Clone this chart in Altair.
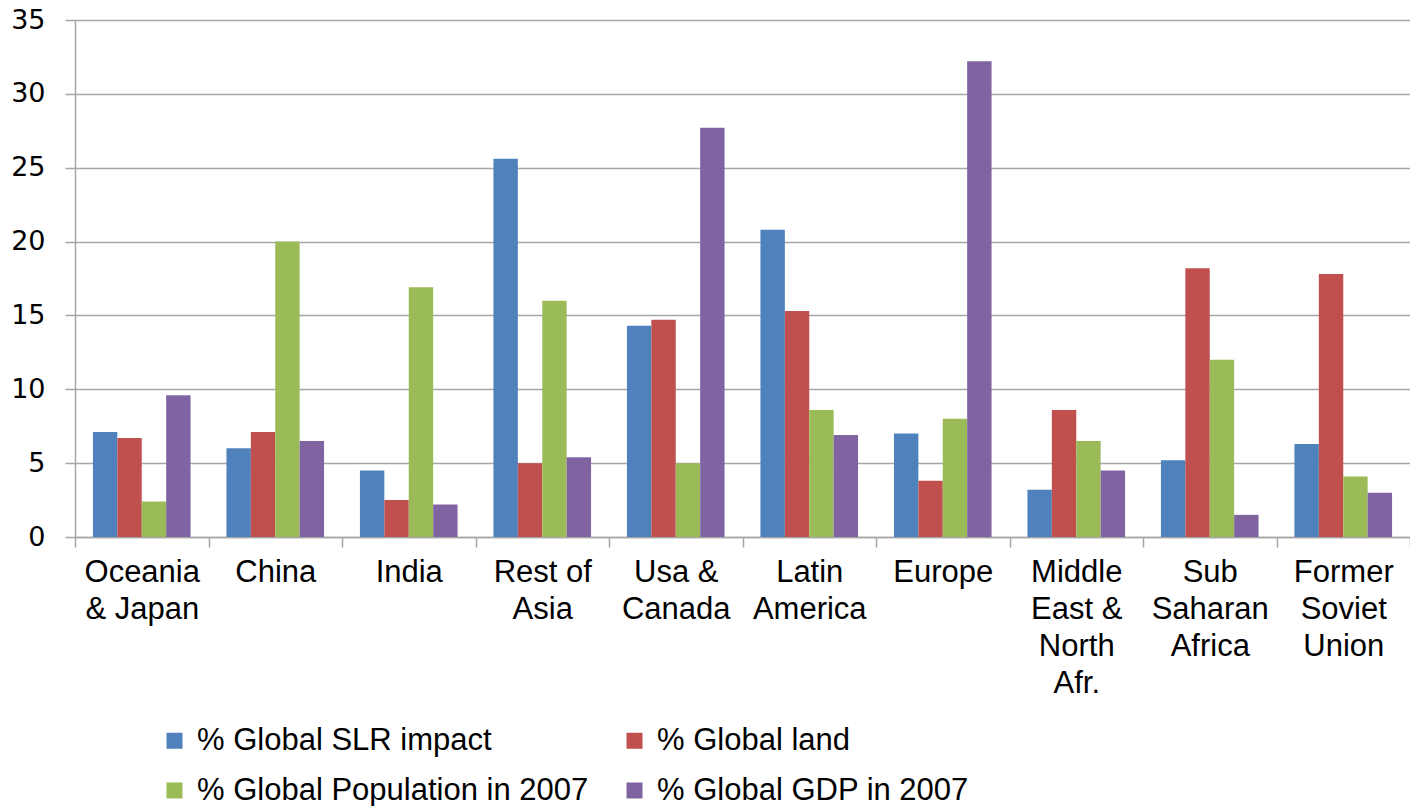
import altair as alt
import pandas as pd

# Regions (a "|" marks a line break in the axis label)
regions = [
    "Oceania|& Japan", "China", "India", "Rest of|Asia", "Usa &|Canada",
    "Latin|America", "Europe", "Middle|East &|North|Afr.", "Sub|Saharan|Africa",
    "Former|Soviet|Union",
]

series_names = [
    "% Global SLR impact",
    "% Global land",
    "% Global Population in 2007",
    "% Global GDP in 2007",
]

slr_impact = [7.1, 6.0, 4.5, 25.6, 14.3, 20.8, 7.0, 3.2, 5.2, 6.3]
land_share = [6.7, 7.1, 2.5, 5.0, 14.7, 15.3, 3.8, 8.6, 18.2, 17.8]
population_2007 = [2.4, 20.0, 16.9, 16.0, 5.0, 8.6, 8.0, 6.5, 12.0, 4.1]
gdp_2007 = [9.6, 6.5, 2.2, 5.4, 27.7, 6.9, 32.2, 4.5, 1.5, 3.0]

colors = ["#4F81BD", "#C0504D", "#9BBB59", "#8064A2"]

rows = []
for name, vals in zip(series_names, [slr_impact, land_share, population_2007, gdp_2007]):
    for region, v in zip(regions, vals):
        rows.append({"region": region, "series": name, "value": v})
df = pd.DataFrame(rows)

grid_color = "#A6A6A6"

bars = alt.Chart(df).mark_bar().encode(
    x=alt.X(
        "region:N",
        sort=regions,
        scale=alt.Scale(paddingInner=0, paddingOuter=0),
        axis=alt.Axis(
            title=None,
            labelAngle=0,
            labelExpr="split(datum.label, '|')",
            labelFont="Liberation Sans",
            labelFontSize=31,
            labelColor="#000000",
            labelLineHeight=37,
            labelBaseline="top",
            labelPadding=10,
            labelLimit=300,
            tickBand="extent",
            tickSize=10,
            tickColor=grid_color,
            tickWidth=1.5,
            domainColor=grid_color,
            domainWidth=1.5,
            grid=False,
        ),
    ),
    xOffset=alt.XOffset(
        "series:N",
        sort=series_names,
        scale=alt.Scale(paddingInner=0, paddingOuter=0.735),
    ),
    y=alt.Y(
        "value:Q",
        scale=alt.Scale(domain=[0, 35], nice=False),
        axis=alt.Axis(
            title=None,
            values=[0, 5, 10, 15, 20, 25, 30, 35],
            labelFont="DejaVu Sans",
            labelFontSize=27,
            labelColor="#000000",
            labelPadding=20,
            tickSize=10,
            tickColor=grid_color,
            tickWidth=1.5,
            domainColor=grid_color,
            domainWidth=1.5,
            grid=True,
            gridColor=grid_color,
            gridWidth=1.5,
        ),
    ),
    color=alt.Color(
        "series:N",
        sort=series_names,
        scale=alt.Scale(domain=series_names, range=colors),
        legend=alt.Legend(
            title=None,
            orient="none",
            direction="horizontal",
            legendX=84,
            legendY=705,
            columns=2,
            columnPadding=30,
            rowPadding=18,
            symbolType="square",
            symbolSize=256,
            symbolStrokeWidth=0,
            symbolOffset=0,
            labelFont="Liberation Sans",
            labelFontSize=31,
            labelColor="#000000",
            labelOffset=7,
            labelLimit=600,
        ),
    ),
)

chart = bars.properties(
    width=1335,
    height=517,
    autosize=alt.AutoSizeParams(type="none"),
    padding={"left": 75, "top": 20, "right": 0, "bottom": 269},
).configure_view(stroke=None).configure(background="#FFFFFF")

chart.save("out.html", embed_options={"renderer": "svg", "actions": False})
